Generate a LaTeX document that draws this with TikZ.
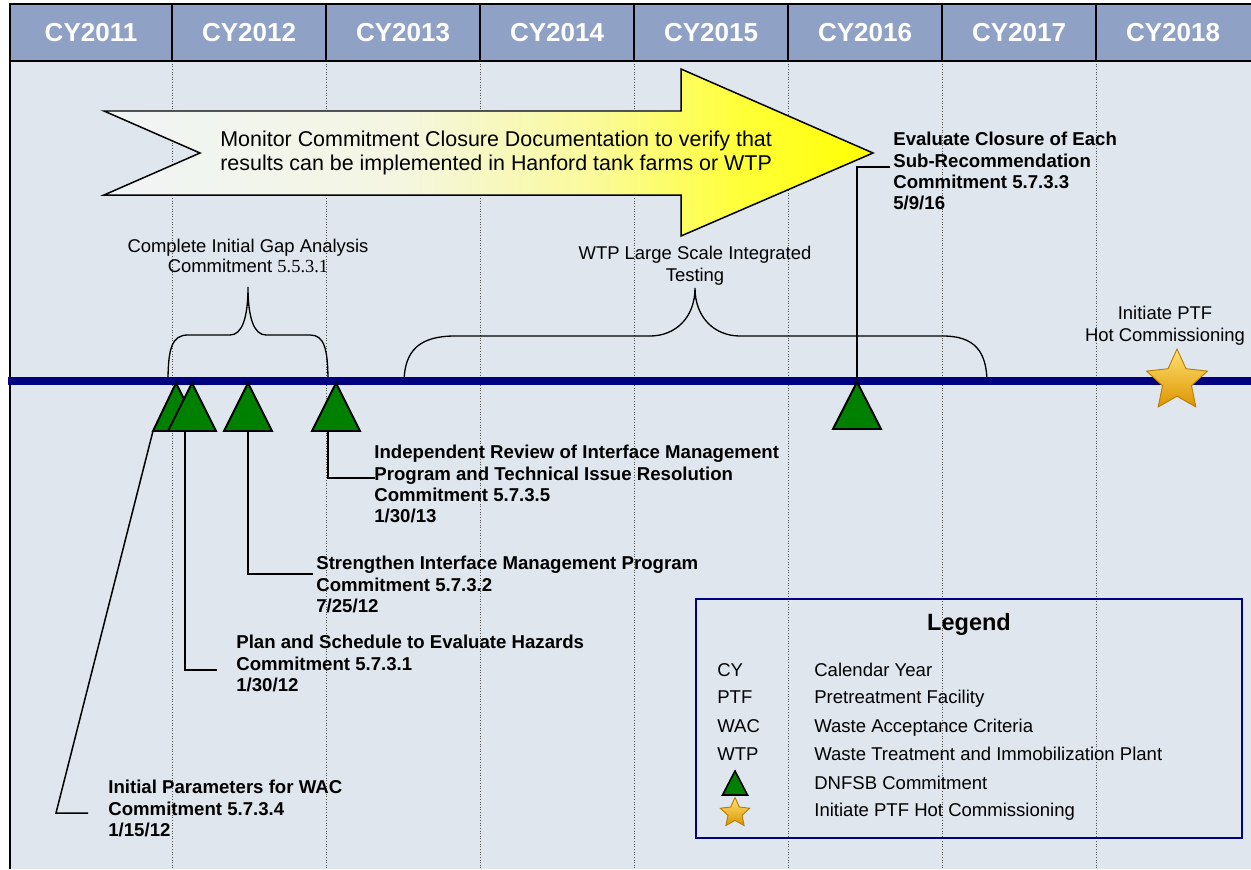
\documentclass[tikz,border=0pt]{standalone}
\usepackage{fontspec}
\setmainfont{Liberation Sans}
\newfontfamily\timesnum{Liberation Serif}
\usetikzlibrary{shapes.geometric}
\definecolor{headblue}{HTML}{8FA1C5}
\definecolor{paneblue}{HTML}{DFE6EE}
\definecolor{linenavy}{HTML}{000080}
\definecolor{trigreen}{HTML}{008000}
\definecolor{fadegrey}{HTML}{F0F4F6}
\definecolor{fadecream}{HTML}{F4F6E2}
\definecolor{fadelemon}{HTML}{FAFA9A}
\definecolor{fadeyellow}{HTML}{FFFF3C}
\definecolor{starhi}{HTML}{FFE070}
\definecolor{starlo}{HTML}{DD9500}
\definecolor{staredge}{HTML}{B57A00}
\pgfdeclarehorizontalshading{monitorfade}{100bp}{color(0bp)=(fadegrey); color(25bp)=(fadegrey); color(44bp)=(fadecream); color(57bp)=(fadelemon); color(66bp)=(fadeyellow); color(75bp)=(yellow); color(100bp)=(yellow)}

\begin{document}
\begin{tikzpicture}[x=0.02cm,y=-0.02cm,
  year/.style={text=white,font=\fontsize{14.8}{16}\selectfont\bfseries},
  grid/.style={densely dotted,black!70,line width=0.5pt},
  commit/.style={anchor=north west,align=left,inner sep=0pt,font=\fontsize{10.6}{12.1}\selectfont\bfseries},
  note/.style={anchor=north,align=center,inner sep=0pt,font=\fontsize{10.5}{12.4}\selectfont},
  key/.style={anchor=base west,inner sep=0pt,font=\fontsize{10.55}{12}\selectfont},
  leader/.style={line width=0.85pt},
  brace/.style={line width=0.75pt},
  tri/.style={fill=trigreen,draw=black,line width=1.1pt,line join=miter},
  gold/.style={star,star points=5,star point ratio=2.1,inner sep=0pt,top color=starhi,bottom color=starlo,draw=staredge,line width=0.5pt}]
  \useasboundingbox (0,0) rectangle (1251,869);
  \fill[white] (0,0) rectangle (1251,869);
  \fill[paneblue] (10,61) rectangle (1251,869);
  \fill[headblue] (10,4) rectangle (1251,61);
  \foreach \gx in {172,326,...,1096} {
    \draw[grid] (\gx,61) -- (\gx,869);
    \draw[line width=1.2pt] (\gx,4) -- (\gx,61);
  }
  \draw[line width=1.6pt] (10,4) -- (1251,4);
  \draw[line width=1.4pt] (10,61) -- (1251,61);
  \draw[line width=1.7pt] (10,3) -- (10,869);
  \foreach \yr/\cx in {2011/91,2012/249,2013/403,2014/557,2015/711,2016/865,2017/1019,2018/1173}
    \node[year] (cy\yr) at (\cx,33) {CY\yr};

  \shadedraw[shading=monitorfade,line width=0.85pt,line join=miter] (104,111) -- (681,111) -- (681,69) -- (873,153) -- (681,236) -- (681,195) -- (104,195) -- (200,153) -- cycle;
  \node[anchor=north west,align=left,inner sep=0pt,font=\fontsize{12.2}{13.2}\selectfont] (monitor) at (220,131) {Monitor Commitment Closure Documentation to verify that\\results can be implemented in Hanford tank farms or WTP};

  \draw[brace] (168,382) .. controls (168,348) and (172,335) .. (188,335) -- (230,335) .. controls (242,335) and (248,318) .. (248,287) .. controls (248,318) and (254,335) .. (266,335) -- (310,335) .. controls (324,335) and (328,348) .. (328,382);
  \draw[brace] (404,383) .. controls (404,350) and (420,336) .. (455,336) -- (650,336) .. controls (675,336) and (695,318) .. (695,288) .. controls (695,318) and (715,336) .. (740,336) -- (943,336) .. controls (975,336) and (987,352) .. (987,383);
  \node[note,font=\fontsize{10.5}{11.4}\selectfont] (gap) at (248,239) {Complete Initial Gap Analysis\\Commitment {\timesnum 5.5.3.1}};
  \node[note] (lsit) at (695,246) {WTP Large Scale Integrated\\Testing};
  \node[note] (ptf) at (1165,306) {Initiate PTF\\Hot Commissioning};

  \draw[linenavy,line width=4.5pt] (8,381) -- (1251,381);

  \coordinate (t1) at (176,383);
  \coordinate (t2) at (192,383);
  \coordinate (t3) at (248,383);
  \coordinate (t4) at (336,383);
  \coordinate (t5) at (857,382);
  \coordinate (t1foot) at (153,431);
  \coordinate (t2foot) at (185,431);
  \coordinate (t3foot) at (248,431);
  \coordinate (t4foot) at (328,431);
  \coordinate (wackink) at (56,813);
  \coordinate (wacend) at (88,813);
  \coordinate (planend) at (217,670);
  \coordinate (strengthenend) at (313,574);
  \coordinate (reviewend) at (375,478);
  \coordinate (closureend) at (890,167);

  \draw[leader] (t1foot) -- (wackink) -- (wacend);
  \draw[leader] (t2foot) |- (planend);
  \draw[leader] (t3foot) |- (strengthenend);
  \draw[leader] (t4foot) |- (reviewend);
  \draw[leader] (t5) |- (closureend);

  \draw[tri] (t1) -- (200,431) -- (153,431) -- cycle;
  \draw[tri] (t2) -- (216,431) -- (168,431) -- cycle;
  \draw[tri] (t3) -- (272,431) -- (224,431) -- cycle;
  \draw[tri] (t4) -- (360,431) -- (312,431) -- cycle;
  \draw[tri] (t5) -- (881,429) -- (833,429) -- cycle;
  \node[gold,minimum size=1.28cm] (hotstar) at (1177,381) {};

  \node[commit] (closure) at (893,132) {Evaluate Closure of Each\\Sub-Recommendation\\Commitment 5.7.3.3\\5/9/16};
  \node[commit] (review) at (374,445) {Independent Review of Interface Management\\Program and Technical Issue Resolution\\Commitment 5.7.3.5\\1/30/13};
  \node[commit] (strengthen) at (316,556) {Strengthen Interface Management Program\\Commitment 5.7.3.2\\7/25/12};
  \node[commit] (plan) at (236,635) {Plan and Schedule to Evaluate Hazards\\Commitment 5.7.3.1\\1/30/12};
  \node[commit] (wac) at (108,780) {Initial Parameters for WAC\\Commitment 5.7.3.4\\1/15/12};

  \draw[linenavy,line width=1.2pt] (696,599) rectangle (1242,838);
  \node[font=\fontsize{13.4}{15}\selectfont\bfseries] (legend) at (969,624) {Legend};
  \foreach \ab/\txt/\ky [count=\k] in {CY/Calendar Year/676.5,PTF/Pretreatment Facility/703.5,WAC/Waste Acceptance Criteria/732,WTP/Waste Treatment and Immobilization Plant/760.5} {
    \node[key] (abbr\k) at (717,\ky) {\ab};
    \node[key] (desc\k) at (814,\ky) {\txt};
  }
  \draw[tri,line width=0.9pt] (735,771) -- (747.5,795) -- (722.5,795) -- cycle;
  \node[key] (desc5) at (814,789.5) {DNFSB Commitment};
  \node[gold,minimum size=0.62cm] (keystar) at (735,813) {};
  \node[key] (desc6) at (814,816.5) {Initiate PTF Hot Commissioning};
\end{tikzpicture}
\end{document}
